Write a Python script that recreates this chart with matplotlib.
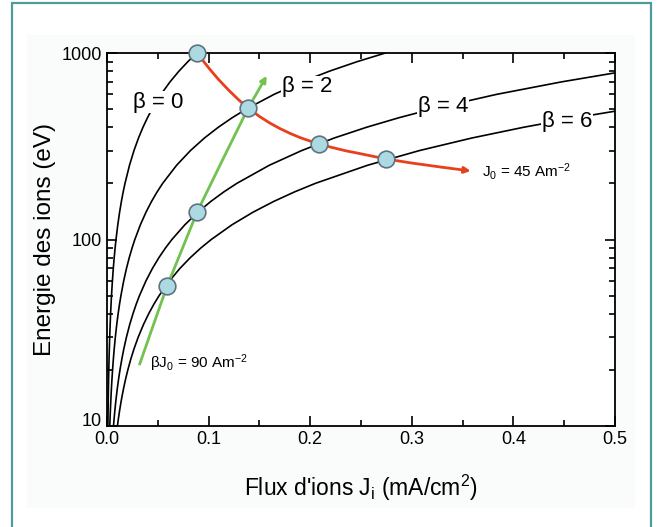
import matplotlib
matplotlib.use('Agg')
import matplotlib.pyplot as plt
from matplotlib.patches import Rectangle

plt.rcParams['font.family'] = ['Liberation Sans', 'DejaVu Sans']
plt.rcParams['mathtext.fontset'] = 'custom'
plt.rcParams['mathtext.rm'] = 'Liberation Sans'
plt.rcParams['mathtext.it'] = 'Liberation Sans'

# courbes beta : energie (eV) lue le long de chaque courbe, flux (mA/cm2)
beta0_e = [10, 11, 12, 13, 14, 16, 18, 20, 23, 26, 30, 35, 40, 45, 50, 60, 70, 80, 90, 100,
           120, 140, 160, 180, 200, 250, 300, 350, 400, 450, 500, 600, 700, 800, 900, 1000]
beta0_j = [0.000886, 0.000974, 0.001063, 0.001151, 0.00124, 0.001417, 0.001594, 0.001771,
           0.002037, 0.002303, 0.002657, 0.0031, 0.003543, 0.003986, 0.004429, 0.005314,
           0.0062, 0.007086, 0.007972, 0.008857, 0.01063, 0.0124, 0.01417, 0.01594, 0.01772,
           0.02214, 0.02657, 0.0310, 0.03543, 0.03986, 0.04429, 0.05314, 0.0620, 0.07086,
           0.07972, 0.08857]

beta2_e = [10, 11, 12, 13, 14, 16, 18, 20, 23, 26, 30, 35, 40, 45, 50, 60, 70, 80, 90, 100,
           120, 140, 160, 180, 200, 250, 300, 350, 400, 450, 500, 600, 700, 800, 900, 1000]
beta2_j = [0.00274, 0.003014, 0.003288, 0.003562, 0.003836, 0.004384, 0.004932, 0.005479,
           0.006301, 0.007123, 0.008219, 0.009589, 0.01096, 0.01233, 0.0137, 0.01644,
           0.01918, 0.02192, 0.02466, 0.0274, 0.03288, 0.03836, 0.04384, 0.04932, 0.05479,
           0.06849, 0.08219, 0.09589, 0.1096, 0.1233, 0.137, 0.1644, 0.1918, 0.2192,
           0.2466, 0.274]

beta4_e = [10, 11, 12, 13, 14, 16, 18, 20, 23, 26, 30, 35, 40, 45, 50, 60, 70, 80, 90, 100,
           120, 140, 160, 180, 200, 250, 300, 350, 400, 450, 500, 600, 700, 782.5]
beta4_j = [0.00639, 0.007029, 0.007668, 0.008307, 0.008946, 0.01022, 0.0115, 0.01278,
           0.0147, 0.01661, 0.01917, 0.02236, 0.02556, 0.02875, 0.03195, 0.03834, 0.04473,
           0.05112, 0.05751, 0.0639, 0.07668, 0.08946, 0.1022, 0.115, 0.1278, 0.1597,
           0.1917, 0.2236, 0.2556, 0.2875, 0.3195, 0.3834, 0.4473, 0.5]

beta6_e = [10, 11, 12, 13, 14, 16, 18, 20, 23, 26, 30, 35, 40, 45, 50, 60, 70, 80, 90, 100,
           120, 140, 160, 180, 200, 250, 300, 350, 400, 450, 487.5]
beta6_j = [0.01026, 0.01128, 0.01231, 0.01333, 0.01436, 0.01641, 0.01846, 0.02051,
           0.02359, 0.02667, 0.03077, 0.0359, 0.04103, 0.04615, 0.05128, 0.06154, 0.07179,
           0.08205, 0.09231, 0.1026, 0.1231, 0.1436, 0.1641, 0.1846, 0.2051, 0.2564,
           0.3077, 0.359, 0.4103, 0.4615, 0.5]

# J0 = 45 Am-2 (rouge)
red_j = [0.0886, 0.095, 0.102, 0.11, 0.12, 0.13, 0.139, 0.15, 0.16, 0.17, 0.18, 0.19,
         0.2, 0.209, 0.22, 0.235, 0.25, 0.275, 0.30, 0.33, 0.358]
red_e = [1000, 902, 808, 719, 630, 558, 507, 457, 422, 394, 371, 352,
         337, 325, 313, 299, 288, 270, 257, 244, 233]

# beta*J0 = 90 Am-2 (vert)
green_j = [0.0318, 0.045, 0.059, 0.074, 0.0886, 0.114, 0.139, 0.1572]
green_e = [21.2, 34, 56, 89, 140, 269, 507, 755]

# points d'intersection
pts_j = [0.0886, 0.139, 0.209, 0.275, 0.0886, 0.059]
pts_e = [1000, 507, 325, 270, 140, 56]

fig = plt.figure(figsize=(6.6, 5.27), dpi=100)
fig.patches.append(Rectangle((27 / 660, 1 - 508 / 527), 608 / 660, 473 / 527,
                             transform=fig.transFigure, facecolor='#fafbfb',
                             edgecolor='none', zorder=-2))
fig.patches.append(Rectangle((12 / 660, -0.05), 639 / 660, 1.05 - 3 / 527,
                             transform=fig.transFigure, facecolor='none',
                             edgecolor='#4f9b9c', lw=1.6, zorder=-1))

ax = fig.add_axes([107 / 660, 1 - 426 / 527, 508 / 660, 373 / 527])
ax.set_facecolor('white')

for j, e in [(beta0_j, beta0_e), (beta2_j, beta2_e), (beta4_j, beta4_e), (beta6_j, beta6_e)]:
    ax.plot(j, e, color='black', lw=1.2, zorder=2)

red = '#e8401c'
green = '#72c24f'
ax.plot(red_j[:-1], red_e[:-1], color=red, lw=2.0, zorder=3, solid_capstyle='butt')
ax.annotate('', xy=(red_j[-1], red_e[-1]), xytext=(red_j[-2], red_e[-2]),
            arrowprops=dict(arrowstyle='-|>', color=red, lw=2.0, mutation_scale=9,
                            shrinkA=0, shrinkB=0), zorder=3)
ax.plot(green_j[:-1], green_e[:-1], color=green, lw=2.0, zorder=3, solid_capstyle='butt')
ax.annotate('', xy=(green_j[-1], green_e[-1]), xytext=(green_j[-2], green_e[-2]),
            arrowprops=dict(arrowstyle='-|>', color=green, lw=2.0, mutation_scale=9,
                            shrinkA=0, shrinkB=0), zorder=3)

ax.plot(pts_j, pts_e, 'o', ms=12, markerfacecolor='#acd9e2', markeredgecolor='#5d7480',
        markeredgewidth=1.2, zorder=5, clip_on=False)

box = dict(facecolor='white', edgecolor='none', pad=0.5)
ax.text(0.0502, 546, 'β = 0', fontsize=16, ha='center', va='center', bbox=box, zorder=4)
ax.text(0.1966, 659, 'β = 2', fontsize=16, ha='center', va='center', bbox=box, zorder=4)
ax.text(0.331, 515, 'β = 4', fontsize=16, ha='center', va='center', bbox=box, zorder=4)
ax.text(0.4525, 428, 'β = 6', fontsize=16, ha='center', va='center', bbox=box, zorder=4)
ax.text(0.0423, 21.8, 'βJ$_0$ = 90 Am$^{-2}$', fontsize=11, ha='left', va='center', zorder=4)
ax.text(0.3688, 231, 'J$_0$ = 45 Am$^{-2}$', fontsize=11, ha='left', va='center', zorder=4)

ax.set_yscale('log')
ax.set_xlim(0, 0.5)
ax.set_ylim(10, 1000)
ax.set_xticks([0.0, 0.1, 0.2, 0.3, 0.4, 0.5])
ax.set_xticklabels(['0.0', '0.1', '0.2', '0.3', '0.4', '0.5'])
ax.set_xticks([0.05, 0.15, 0.25, 0.35, 0.45], minor=True)
ax.set_yticks([10, 100, 1000])
ax.set_yticklabels(['10', '100', '1000'])
ax.tick_params(which='both', direction='in', top=True, right=True, labelsize=13, width=1.2)
ax.tick_params(which='major', length=7)
ax.tick_params(which='minor', length=4)
ax.get_yticklabels()[0].set_va('baseline')
for s in ax.spines.values():
    s.set_linewidth(1.3)

ax.set_xlabel('Flux d\'ions J$_\\mathrm{i}$ (mA/cm$^2$)', fontsize=16.5, labelpad=18)
ax.set_ylabel('Energie des ions (eV)', fontsize=17.5, labelpad=4)

fig.savefig('out.png', dpi=100)
